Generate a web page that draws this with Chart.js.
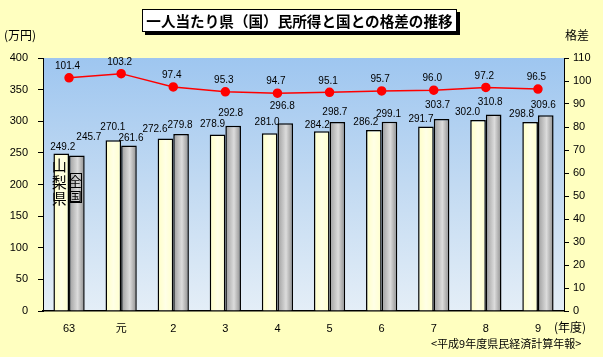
<!DOCTYPE html>
<html>
<head>
<meta charset="utf-8">
<script src="https://cdn.jsdelivr.net/npm/chart.js@4.4.1/dist/chart.umd.min.js"></script>
<style>
  html, body { margin:0; padding:0; background:#FFFFC0; }
  #wrap { position:relative; width:603px; height:357px; background:#FFFFC0; overflow:hidden; }
  canvas { position:absolute; left:0; top:0; }
  .t { position:absolute; font-family:"Noto Sans CJK JP", sans-serif; color:#000; white-space:nowrap; line-height:1; }
  #title { left:142px; top:9px; width:313px; height:21px; line-height:21px; text-align:center;
           background:#fff; border:1px solid #000; box-shadow:3px 3px 0 #000; font-weight:bold; font-size:14.6px; }
</style>
</head>
<body>
<div id="wrap">
  <canvas id="c" width="603" height="357"></canvas>
  <div class="t" id="title">一人当たり県（国）民所得と国との格差の推移</div>
  <div class="t" style="left:4px;top:29px;font-size:12px;">(万円)</div>
  <div class="t" style="left:565px;top:29px;font-size:12px;">格差</div>
  <div class="t" style="left:554px;top:321px;font-size:12px;">(年度)</div>
  <div class="t" style="left:431px;top:338px;font-size:11px;">&lt;平成9年度県民経済計算年報&gt;</div>
</div>
<script>
const categories = ['63', '元', '2', '3', '4', '5', '6', '7', '8', '9'];
const yamanashi = [249.2, 270.1, 272.6, 278.9, 281.0, 284.2, 286.2, 291.7, 302.0, 298.8];
const zenkoku   = [245.7, 261.6, 279.8, 292.8, 296.8, 298.7, 299.1, 303.7, 310.8, 309.6];
const kakusa    = [101.4, 103.2, 97.4, 95.3, 94.7, 95.1, 95.7, 96.0, 97.2, 96.5];
const leftAxis  = { min: 0, max: 400, step: 50 };
const rightAxis = { min: 0, max: 110, step: 10 };

// value-label nudges (px, relative to the top centre of each bar), as placed in the original
const yLabelDx = [1.5, -0.5, -10.5, -5, -2.5, -4.5, -8, -5, -10.5, -8.5];
const yLabelDy = [-6.5, -13, -9.5, -10.5, -11, -6, -7.5, -7, -7.5, -7.5];
const zLabelDx = [12, 2, -1, -2.5, -3, -2.5, -1, -4, -3.5, -2.5];
const zLabelDy = [-18, -7, -8.5, -12.5, -17.5, -9.5, -8, -13.5, -12, -10];

const CAT_PCT = 0.6;
const NUM_FONT = '10px "Liberation Sans", "Noto Sans CJK JP", sans-serif';
const TICK_FONT = { family: '"Liberation Sans", "Noto Sans CJK JP", sans-serif', size: 11 };

function barFill(stops, side) {
  return (c) => {
    const ch = c.chart;
    const xs = ch.scales && ch.scales.x;
    if (!xs || c.dataIndex === undefined || !xs.width) return stops[1][1];
    const center = xs.getPixelForValue(c.dataIndex);
    const bw = xs.width / categories.length * CAT_PCT / 2;
    const left = side === 0 ? center - bw : center;
    const g = ch.ctx.createLinearGradient(left, 0, left + bw, 0);
    stops.forEach(s => g.addColorStop(s[0], s[1]));
    return g;
  };
}

const plotBg = {
  id: 'plotBg',
  beforeDraw(chart) {
    const { ctx, chartArea: a } = chart;
    const g = ctx.createLinearGradient(0, a.top, 0, a.bottom);
    g.addColorStop(0, '#9EC6F0');
    g.addColorStop(0.5, '#C2DAF2');
    g.addColorStop(1, '#E4EEF7');
    ctx.save();
    ctx.fillStyle = g;
    ctx.fillRect(a.left, a.top, a.right - a.left, a.bottom - a.top);
    ctx.restore();
  }
};

const labelsPlugin = {
  id: 'valueLabels',
  afterDatasetsDraw(chart) {
    const ctx = chart.ctx;
    ctx.save();
    ctx.font = NUM_FONT;
    ctx.fillStyle = '#000';
    ctx.textAlign = 'center';
    ctx.textBaseline = 'middle';
    chart.data.datasets.forEach((ds, di) => {
      const meta = chart.getDatasetMeta(di);
      meta.data.forEach((el, i) => {
        const v = ds.data[i].toFixed(1);
        if (ds.key === 'y') ctx.fillText(v, el.x + yLabelDx[i], el.y + yLabelDy[i]);
        else if (ds.key === 'z') ctx.fillText(v, el.x + zLabelDx[i], el.y + zLabelDy[i]);
        else ctx.fillText(v, el.x - 1.5, el.y - 11.5);
      });
    });
    // vertical series names inside the first pair of bars
    const b0 = chart.getDatasetMeta(1).data[0];
    const b1 = chart.getDatasetMeta(2).data[0];
    ctx.font = '15px "Noto Sans CJK JP", sans-serif';
    ['山', '梨', '県'].forEach((ch, k) => ctx.fillText(ch, b0.x - 2, b0.y + 12 + k * 16.5));
    ctx.font = '13px "Noto Sans CJK JP", sans-serif';
    ctx.strokeStyle = '#000';
    ctx.lineWidth = 1;
    ctx.strokeRect(Math.round(b1.x - 7) + 0.5, Math.round(b1.y + 17) + 0.5, 11, 29);
    ['全', '国'].forEach((ch, k) => ctx.fillText(ch, b1.x - 1.5, b1.y + 25 + k * 15));
    ctx.restore();
  }
};

new Chart(document.getElementById('c'), {
  data: {
    labels: categories,
    datasets: [
      {
        type: 'line', key: 'k', label: '格差', data: kakusa, yAxisID: 'y2', order: 0,
        borderColor: '#FF0000', borderWidth: 1.5, pointRadius: 4, pointHoverRadius: 4,
        pointBackgroundColor: '#FF0000', pointBorderColor: '#FF0000', tension: 0
      },
      {
        type: 'bar', key: 'y', label: '山梨県', data: yamanashi, yAxisID: 'y', order: 1,
        backgroundColor: barFill([[0, '#FFFFC4'], [0.5, '#FFFFE6'], [1, '#FFFFCC']], 0),
        borderColor: '#000', borderWidth: 1.5, borderSkipped: 'bottom',
        categoryPercentage: CAT_PCT, barPercentage: 1.0
      },
      {
        type: 'bar', key: 'z', label: '全国', data: zenkoku, yAxisID: 'y', order: 1,
        backgroundColor: barFill([[0, '#9C9C9C'], [0.55, '#DCDCDC'], [1, '#8C8C8C']], 1),
        borderColor: '#000', borderWidth: 1.5, borderSkipped: 'bottom',
        categoryPercentage: CAT_PCT, barPercentage: 1.0
      }
    ]
  },
  options: {
    responsive: false,
    devicePixelRatio: 1,
    animation: false,
    layout: { padding: { top: 58, left: 0, right: 0, bottom: 0 } },
    plugins: { legend: { display: false }, tooltip: { enabled: false }, title: { display: false } },
    scales: {
      x: {
        offset: true,
        grid: { display: false, drawTicks: false },
        border: { display: true, color: '#000', width: 1.5 },
        ticks: { color: '#000', font: TICK_FONT, padding: 11, maxRotation: 0 },
        afterFit: (s) => { s.height = 46; }
      },
      y: {
        position: 'left', min: leftAxis.min, max: leftAxis.max,
        grid: { drawOnChartArea: false, color: '#000', tickLength: 5 },
        border: { display: true, color: '#000', width: 1 },
        ticks: { stepSize: leftAxis.step, color: '#000', font: TICK_FONT, padding: 10 },
        afterFit: (s) => { s.width = 43; }
      },
      y2: {
        position: 'right', min: rightAxis.min, max: rightAxis.max,
        grid: { drawOnChartArea: false, color: '#000', tickLength: 5 },
        border: { display: true, color: '#000', width: 1 },
        ticks: { stepSize: rightAxis.step, color: '#000', font: TICK_FONT, padding: 4 },
        afterFit: (s) => { s.width = 39; }
      }
    }
  },
  plugins: [plotBg, labelsPlugin]
});
</script>
</body>
</html>
